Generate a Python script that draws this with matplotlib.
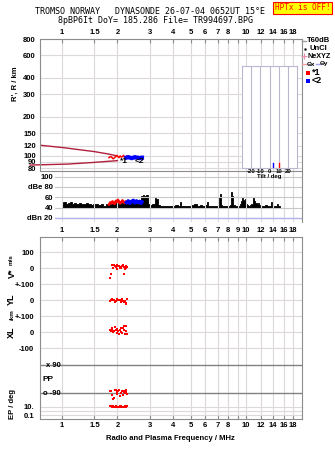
import matplotlib.pyplot as plt
import numpy as np
from matplotlib.lines import Line2D

W, H = 335, 451
fig = plt.figure(figsize=(W / 100, H / 100), dpi=100)
plt.rcParams['font.family'] = ['Liberation Sans', 'DejaVu Sans']

# ==============================================================================================
#                                         data
# ==============================================================================================

freq_ticks = [1, 1.5, 2, 3, 4, 5, 6, 7, 8, 9, 10, 12, 14, 16, 18]
top_labels = ['1', '1.5', '2', '3', '4', '5', '6', '7', '8', '', '10', '12', '14', '16', '18']
mid_labels = ['1', '1.5', '2', '3', '4', '5', '6', '7', '8', '9', '10', '12', '14', '16', '18']
f_lim = (0.759, 20.15)

# virtual / real height panel
h_ticks = [80, 90, 100, 120, 150, 200, 300, 400, 600, 800]
model_f_upper = [0.759, 1.01, 1.5, 1.82, 2.0]
model_h_upper = [121, 116, 108, 103, 100]
model_f_lower = [0.67, 1.07, 1.47, 2.0]
model_h_lower = [85, 86.5, 89, 92]

red_f = [1.80, 1.83, 1.86, 1.88, 1.90, 1.93, 1.96, 1.99, 2.01, 2.04, 2.07, 2.10, 2.13, 2.16, 2.19, 2.22, 2.25]
red_h = [97, 99, 98, 96, 95, 97, 99, 101, 99, 97, 100, 98, 99, 101, 97, 98, 100]
blue_f = [2.24, 2.29, 2.34, 2.39, 2.44, 2.49, 2.54, 2.59, 2.64, 2.69, 2.72]
blue_h = [97, 98, 97, 96, 97, 98, 97, 97, 96, 97, 97]

tilt_ticks = [-20, -10, 0, 10, 20]
tilt_red = 10
tilt_blue = 4

# amplitude panel
db_ticks = [20, 40, 60, 80, 100]
db_labels = ['dBn 20', '40', '60', 'dBe 80', '100']
db_freq = [1.00, 1.03, 1.06, 1.09, 1.12, 1.15, 1.18, 1.21, 1.25, 1.29,
           1.33, 1.37, 1.41, 1.45, 1.50, 1.55, 1.60, 1.65, 1.70, 1.75,
           1.80, 1.86, 1.92, 1.98, 2.05, 2.12, 2.19, 2.26, 2.34, 2.42,
           2.50, 2.58, 2.66, 2.72, 2.76, 2.80, 2.84, 2.88, 2.95, 3.05,
           3.15, 3.22, 3.28, 3.35, 3.45, 3.60, 3.75, 3.90, 4.05, 4.20,
           4.35, 4.42, 4.50, 4.70, 4.90, 5.10, 5.30, 5.50, 5.70, 5.90,
           6.10, 6.20, 6.30, 6.50, 6.70, 6.90, 7.05, 7.15, 7.25, 7.35,
           7.50, 7.70, 7.90, 8.10, 8.25, 8.35, 8.45, 8.60, 8.80, 9.00,
           9.20, 9.40, 9.50, 9.60, 9.70, 9.80, 9.90, 10.0, 10.1, 10.2,
           10.4, 10.6, 10.8, 10.9, 11.0, 11.1, 11.2, 11.3, 11.4, 11.5,
           11.6, 11.8, 12.0, 12.3, 12.6, 12.9, 13.2, 13.5, 13.7, 13.8,
           13.9, 14.1, 14.4, 14.7, 14.9, 15.1, 15.3]
db_vals = [48, 51, 46, 49, 50, 47, 48, 46, 49, 47,
           46, 48, 47, 45, 46, 47, 45, 46, 44, 46,
           45, 47, 46, 48, 47, 49, 48, 47, 48, 49,
           48, 47, 49, 62, 64, 63, 62, 64, 46, 45,
           47, 58, 56, 45, 44, 43, 44, 43, 44, 45,
           44, 50, 44, 43, 44, 45, 46, 44, 45, 43,
           45, 51, 44, 43, 44, 43, 44, 60, 67, 45,
           44, 43, 44, 43, 45, 70, 62, 45, 44, 43,
           44, 46, 52, 58, 55, 53, 57, 50, 47, 45,
           44, 45, 46, 55, 58, 52, 50, 48, 49, 47,
           48, 45, 44, 43, 44, 45, 44, 43, 44, 50,
           44, 43, 44, 43, 47, 44, 43]
red_db = [46, 50, 48, 52, 49, 47, 53, 51, 55, 52, 48, 50, 54, 51, 49, 52, 50]
blue_db = [50, 53, 48, 52, 54, 49, 53, 50, 52, 48, 51]

# echo parameters
echo_f = [1.82, 1.84, 1.86, 1.88, 1.90, 1.92, 1.94, 1.96, 1.98, 2.00, 2.02, 2.04,
          2.06, 2.08, 2.10, 2.12, 2.14, 2.16, 2.18, 2.20, 2.22, 2.24, 2.26]
v_star = [-65, -35, 19, 21, 2, 17, 13, 4, 19, -6, 13, 15, -2, 8, 2, 10, 16, -35, 4, -6, 10, 0, 6]
y_l = [-5, 2, 5, 3, -3, 0, -12, -8, 4, 6, -2, 3, 0, -6, -10, 5, -4, -12, -15, -8, -20, -28, 8]
x_l = [10, 5, 25, 14, -3, 8, 30, 12, -8, 20, 5, -12, 15, 28, 0, -5, 22, 40, 10, -10, 35, 5, -15]
pp = [-75, -80, -100, -105, -128, -120, -72, -68, -85, -95, -80, -70, -110, -92, -88, -75,
      -100, -82, -78, -90, -72, -86, -95]
ep = [14, 12, 9, 11, 13, 8, 10, 15, 9, 11, 7, 10, 12, 9, 14, 8, 10, 11, 9, 13, 10, 8, 12]

vel_ticks = [100, 0, -100, -200, -300, -400, -500]
vel_labels = ['100', '0', '+-100', '0', '+-100', '0', '-100']

# ==============================================================================================
#                                         styling helpers
# ==============================================================================================

GRID = '#dcd8dc'
FRAME = '#8c8c8c'
CRIMSON = '#b0203c'
TICKFONT = dict(fontsize=5.5, fontweight='bold')


def rect(x0, y0, x1, y1):
    return [x0 / W, 1 - y1 / H, (x1 - x0) / W, (y1 - y0) / H]


def freq_axis(ax, xlim=f_lim):
    ax.set_xscale('log')
    ax.set_xlim(*xlim)
    ax.set_xticks(freq_ticks)
    ax.set_xticklabels([''] * len(freq_ticks))
    ax.xaxis.set_minor_locator(plt.NullLocator())
    ax.grid(True, axis='x', color=GRID, lw=0.8)
    for s in ax.spines.values():
        s.set_color(FRAME)
        s.set_linewidth(0.8)
    ax.tick_params(axis='both', colors=FRAME, labelcolor='black', labelsize=5.5)
    ax.tick_params(axis='x', direction='in', length=3, width=0.8)
    ax.tick_params(axis='y', length=0)


# ==============================================================================================
#                                         height panel
# ==============================================================================================

ax_h = fig.add_axes(rect(40, 39, 302, 171))
freq_axis(ax_h)
ax_h.xaxis.tick_top()
ax_h.set_xticklabels(top_labels, **TICKFONT)
ax_h.tick_params(axis='x', pad=2)
ax_h.set_yscale('log')
ax_h.set_ylim(76.5, 800)
ax_h.set_yticks(h_ticks)
ax_h.set_yticklabels([str(t) for t in h_ticks], **TICKFONT)
ax_h.yaxis.set_minor_locator(plt.NullLocator())
ax_h.tick_params(axis='y', pad=3)
ax_h.grid(True, axis='y', color=GRID, lw=0.8)

ax_h.plot(model_f_upper, model_h_upper, color=CRIMSON, lw=1.0)
ax_h.plot(model_f_lower, model_h_lower, color=CRIMSON, lw=1.0, clip_on=False)
ax_h.plot(red_f, red_h, color='red', lw=1.1)
ax_h.plot(blue_f, blue_h, color='blue', lw=3.0)
ax_h.text(2.07, 90, '*1', fontsize=6, fontweight='bold', va='center')
ax_h.text(2.49, 90, '<2', fontsize=6, fontweight='bold', va='center')
fig.text(15 / W, 1 - 84 / H, "R', R / km", rotation=90, ha='center', va='center', **TICKFONT)

# tilt inset
ax_t = fig.add_axes(rect(242, 66, 297, 168))
ax_t.set_zorder(5)
ax_t.set_xlim(-29.5, 29.5)
ax_t.set_ylim(0, 1)
ax_t.set_xticks(tilt_ticks)
ax_t.set_xticklabels([str(t) for t in tilt_ticks], fontsize=4.3, fontweight='bold')
ax_t.set_yticks([])
ax_t.tick_params(axis='x', length=0, pad=1)
ax_t.grid(True, axis='x', color='#b8b8d0', lw=0.8)
for s in ax_t.spines.values():
    s.set_color('#b8b8d0')
ax_t.set_xlabel('Tilt / deg', fontsize=4.3, fontweight='bold', labelpad=0)
ax_t.axvline(tilt_red, ymin=0, ymax=0.05, color='red', lw=1.0)
ax_t.axvline(tilt_blue, ymin=0, ymax=0.05, color='blue', lw=1.0)

# ==============================================================================================
#                                         amplitude panel
# ==============================================================================================

ax_d = fig.add_axes(rect(55, 172, 302, 222))
freq_axis(ax_d, xlim=(0.916, 20.15))
ax_d.patch.set_alpha(0)
ax_d.spines['left'].set_visible(False)
ax_d.spines['top'].set_visible(False)
ax_d.spines['bottom'].set_visible(False)
ax_d.set_xticklabels(mid_labels, **TICKFONT)
ax_d.tick_params(axis='x', length=0, pad=3.5)
ax_d.set_ylim(12, 109)
ax_d.set_yticks(db_ticks)
ax_d.set_yticklabels(db_labels, **TICKFONT)
ax_d.tick_params(axis='y', pad=1.5)
ax_d.grid(True, axis='y', color='#c8c8c8', lw=0.8)
ax_d.axhline(20, color='#b4b4ec', lw=1.0)
ax_d.fill_between(db_freq, 40, db_vals, step='mid', color='black', lw=0.6, edgecolor='black')
ax_d.plot(red_f, red_db, color='red', lw=1.8)
ax_d.plot(blue_f, blue_db, color='blue', lw=2.5)

# ==============================================================================================
#                                         echo parameter panels
# ==============================================================================================

ax_v = fig.add_axes(rect(40, 237, 302, 356))
freq_axis(ax_v)
ax_v.xaxis.tick_top()
ax_v.spines['bottom'].set_visible(False)
ax_v.set_ylim(-550, 194)
ax_v.set_yticks(vel_ticks)
ax_v.set_yticklabels(vel_labels, **TICKFONT)
ax_v.tick_params(axis='y', pad=4)
ax_v.grid(True, axis='y', color=GRID, lw=0.8)
ax_v.plot(echo_f, v_star, 's', color='red', ms=1.6, mew=0)
ax_v.plot(echo_f, np.array(y_l) - 200, 's', color='red', ms=1.6, mew=0)
ax_v.plot(echo_f, np.array(x_l) - 400, 's', color='red', ms=1.6, mew=0)

ax_p = fig.add_axes(rect(40, 356, 302, 400))
freq_axis(ax_p)
ax_p.spines['top'].set_visible(False)
ax_p.spines['bottom'].set_visible(False)
ax_p.tick_params(axis='x', length=0)
ax_p.set_ylim(-135, 148)
ax_p.set_yticks([90, -90])
ax_p.set_yticklabels(['', ''])
ax_p.grid(True, axis='y', color='#808080', lw=1.0)
ax_p.text(0.08, 90, 'x 90', transform=ax_p.get_yaxis_transform(), ha='right', va='center', **TICKFONT)
ax_p.text(0.08, -90, 'o -90', transform=ax_p.get_yaxis_transform(), ha='right', va='center', **TICKFONT)
ax_p.text(0.01, 0, 'PP', transform=ax_p.get_yaxis_transform(), ha='left', va='center', fontsize=6, fontweight='bold')
ax_p.plot(echo_f, pp, 's', color='red', ms=1.6, mew=0)

ax_e = fig.add_axes(rect(40, 400, 302, 419))
freq_axis(ax_e)
ax_e.spines['top'].set_visible(False)
ax_e.set_yscale('log')
ax_e.set_ylim(0.011, 410)
ax_e.set_yticks([10, 1, 0.1])
ax_e.set_yticklabels(['10.', '', '0.1'], **TICKFONT)
ax_e.yaxis.set_minor_locator(plt.NullLocator())
ax_e.tick_params(axis='y', pad=4)
ax_e.grid(True, axis='y', color=GRID, lw=0.8)
ax_e.set_xticklabels(top_labels, **TICKFONT)
ax_e.tick_params(axis='x', pad=2.5)
ax_e.plot(echo_f, ep, 's', color='red', ms=1.6, mew=0)

# side labels
fig.text(12 / W, 1 - 273 / H, 'V*', rotation=90, ha='center', va='center', fontsize=6.5, fontweight='bold')
fig.text(11 / W, 1 - 260 / H, 'm/s', rotation=90, ha='center', va='center', fontsize=4.5, fontweight='bold')
fig.text(11 / W, 1 - 299 / H, 'YL', rotation=90, ha='center', va='center', fontsize=6.5, fontweight='bold')
fig.text(12 / W, 1 - 315 / H, '/km', rotation=90, ha='center', va='center', fontsize=4.5, fontweight='bold')
fig.text(11 / W, 1 - 332 / H, 'XL', rotation=90, ha='center', va='center', fontsize=6.5, fontweight='bold')
fig.text(13 / W, 1 - 404 / H, 'EP / deg', rotation=90, ha='center', va='center', **TICKFONT)
fig.text(170 / W, 1 - 439 / H, 'Radio and Plasma Frequency / MHz', ha='center', va='center', **TICKFONT)

# ==============================================================================================
#                                         header and legend
# ==============================================================================================

fig.text(150 / W, 1 - 12 / H, 'TROMSO NORWAY   DYNASONDE 26-07-04 0652UT 15°E',
         ha='center', va='center', family='DejaVu Sans Mono', fontsize=6)
fig.text(155 / W, 1 - 20.5 / H, '8pBP6It DoY= 185.286 File= TR994697.BPG',
         ha='center', va='center', family='DejaVu Sans Mono', fontsize=6)
fig.text(302.5 / W, 1 - 8 / H, 'HPTx is OFF!', ha='center', va='center', color='red',
         family='DejaVu Sans Mono', fontsize=5.6,
         bbox=dict(boxstyle='square,pad=0.2', fc='#ffff00', ec='red', lw=0.8))


def fx(x):
    return x / W


def fy(y):
    return 1 - y / H


fig.add_artist(Line2D([fx(302), fx(306)], [fy(41), fy(41)], color='#a0a0a0', lw=1.0))
fig.text(fx(307), fy(41), 'T60dB', va='center', **TICKFONT)
fig.add_artist(Line2D([fx(305)], [fy(48.5)], marker='.', ms=1.5, color='black', lw=0))
fig.text(fx(310), fy(48.5), 'UnCl', va='center', **TICKFONT)
fig.add_artist(Line2D([fx(303.5)], [fy(56)], marker='+', ms=4, mew=0.8, color='#f08cb0', lw=0))
fig.text(fx(307), fy(56), 'NeXYZ', va='center', fontsize=5.2, fontweight='bold')
fig.add_artist(Line2D([fx(302), fx(306)], [fy(64), fy(64)], color='#f0a0a0', lw=1.0))
fig.text(fx(306.5), fy(64), 'Θx', va='center', fontsize=4.6, fontweight='bold')
fig.add_artist(Line2D([fx(315.5), fx(319.5)], [fy(64), fy(64)], color='#a0a0f0', lw=1.0))
fig.text(fx(320), fy(64), 'Θy', va='center', fontsize=4.6, fontweight='bold')
fig.add_artist(Line2D([fx(307.5)], [fy(72.5)], marker='s', ms=2.2, mew=0, color='red', lw=0))
fig.text(fx(312), fy(72.5), '*1', va='center', fontsize=6.5, fontweight='bold')
fig.add_artist(Line2D([fx(307.5)], [fy(80.5)], marker='s', ms=2.2, mew=0, color='blue', lw=0))
fig.text(fx(312), fy(80.5), '<2', va='center', fontsize=6.5, fontweight='bold')

plt.savefig('out.png', dpi=100)
